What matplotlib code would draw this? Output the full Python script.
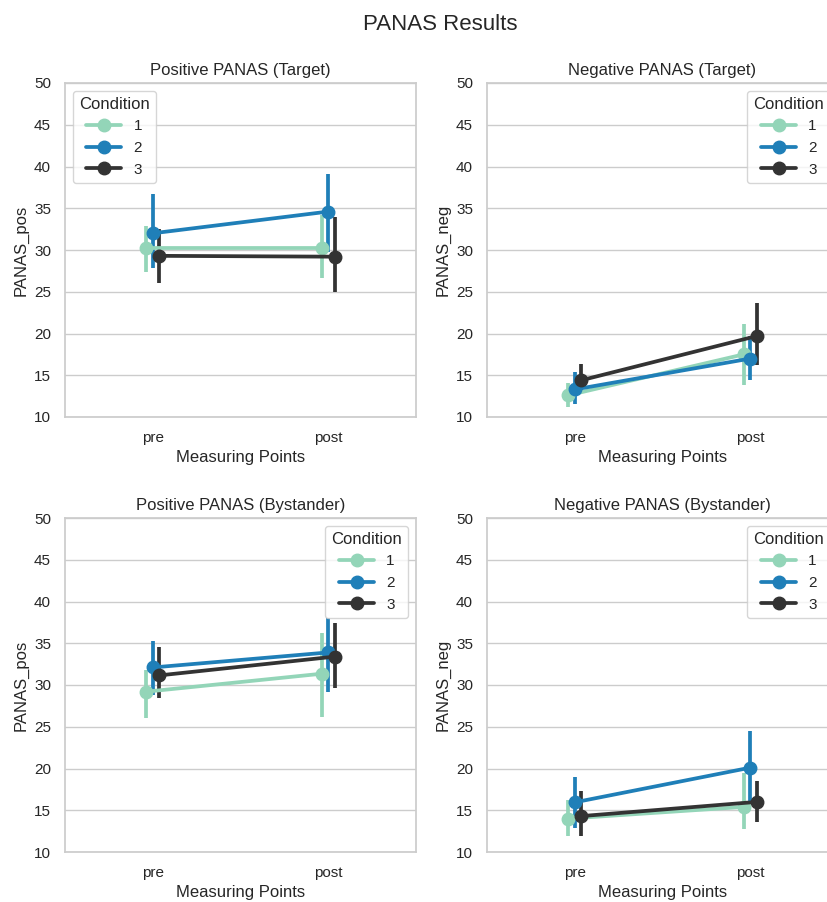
import numpy as np
import matplotlib
matplotlib.use("Agg")
import matplotlib.pyplot as plt
import seaborn as sns

sns.set_theme(style="whitegrid")
plt.rcParams['font.family'] = ['Liberation Sans', 'DejaVu Sans']

measuring_points = ["pre", "post"]
conditions = ["1", "2", "3"]
colors = ["#93d5b8", "#1f7fb8", "#333333"]

# mean, ci_low, ci_high per condition (rows) and measuring point (cols)
pos_target_mean = [[30.2, 30.2], [32.0, 34.6], [29.3, 29.2]]
pos_target_lo = [[27.4, 26.6], [27.8, 29.8], [26.0, 25.0]]
pos_target_hi = [[32.9, 34.2], [36.7, 39.1], [32.5, 33.9]]

neg_target_mean = [[12.6, 17.5], [13.3, 17.0], [14.4, 19.7]]
neg_target_lo = [[11.2, 13.8], [11.6, 14.4], [13.0, 16.2]]
neg_target_hi = [[14.1, 21.1], [15.4, 19.7], [16.3, 23.6]]

pos_bystander_mean = [[29.2, 31.35], [32.1, 33.9], [31.15, 33.4]]
pos_bystander_lo = [[26.1, 26.2], [28.8, 29.2], [28.45, 29.6]]
pos_bystander_hi = [[31.8, 36.2], [35.3, 38.0], [34.6, 37.4]]

neg_bystander_mean = [[14.0, 15.4], [15.95, 20.1], [14.3, 16.0]]
neg_bystander_lo = [[11.9, 12.7], [12.85, 16.1], [11.9, 13.6]]
neg_bystander_hi = [[16.2, 19.5], [19.0, 24.5], [17.3, 18.5]]

panels = [
    ("Positive PANAS (Target)", "PANAS_pos", pos_target_mean, pos_target_lo, pos_target_hi, "upper left"),
    ("Negative PANAS (Target)", "PANAS_neg", neg_target_mean, neg_target_lo, neg_target_hi, "upper right"),
    ("Positive PANAS (Bystander)", "PANAS_pos", pos_bystander_mean, pos_bystander_lo, pos_bystander_hi, "upper right"),
    ("Negative PANAS (Bystander)", "PANAS_neg", neg_bystander_mean, neg_bystander_lo, neg_bystander_hi, "upper right"),
]

fig = plt.figure(figsize=(8.28, 9.02), dpi=100)
W, H = 828, 902
boxes = [(65, 83), (487, 83), (65, 518), (487, 518)]
aw, ah = 351, 334

x = np.arange(len(measuring_points))
offsets = [-0.0375, 0.0, 0.0375]

for (title, ylabel, mean, lo, hi, loc), (left, top) in zip(panels, boxes):
    ax = fig.add_axes([left / W, 1 - (top + ah) / H, aw / W, ah / H])
    for i, cond in enumerate(conditions):
        xs = x + offsets[i]
        m = np.array(mean[i])
        ax.vlines(xs, lo[i], hi[i], color=colors[i], lw=2.7, zorder=2)
        ax.plot(xs, m, color=colors[i], lw=2.7, marker="o", ms=9,
                label=cond, zorder=3)
    ax.set_xlim(-0.5, 1.5)
    ax.set_ylim(10, 50)
    ax.set_yticks(range(10, 51, 5))
    ax.set_xticks(x)
    ax.set_xticklabels(measuring_points)
    ax.grid(axis="x", visible=False)
    ax.grid(axis="y", color="#cccccc", lw=1)
    ax.tick_params(labelsize=11, pad=4)
    ax.set_title(title, fontsize=12)
    ax.set_xlabel("Measuring Points", fontsize=12, labelpad=4)
    ax.set_ylabel(ylabel, fontsize=12)
    ax.legend(title="Condition", loc=loc, fontsize=11, title_fontsize=12,
              handlelength=2.3)

fig.suptitle("PANAS Results", fontsize=16, x=440 / W, y=0.985)
fig.savefig("out.png", dpi=100)
